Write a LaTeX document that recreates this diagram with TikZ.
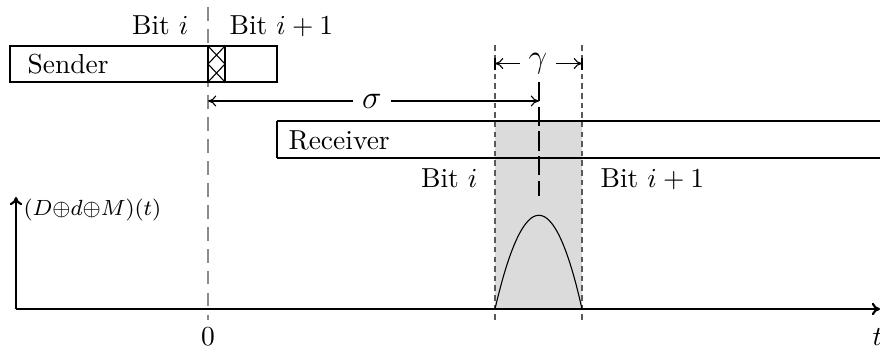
\documentclass[tikz,border=0pt]{standalone}
\usetikzlibrary{arrows.meta}
\begin{document}
\begin{tikzpicture}[x=0.364pt,y=-0.364pt,
  lbl/.style={inner sep=0pt},
  dimarrow/.style={-{To[length=3pt,width=4pt]}},
  gdash/.style={black!65, dash pattern=on 2pt off 1.5pt},
  box/.style={draw, line width=0.4pt}]
\useasboundingbox (0,0) rectangle (880,351);
% shaded window
\fill[black!14] (495,121) rectangle (582,309);
% dashed guide lines
\draw[black!45, dash pattern=on 5pt off 3pt] (208,7) -- (208,320);
\draw[gdash] (495,45) -- (495,320);
\draw[gdash] (582,45) -- (582,320);
\draw[dash pattern=on 7pt off 2pt] (539,82) -- (539,196);
% sender
\draw[box] (10,46) rectangle (277,82);
\node[lbl, anchor=west] (sender) at (27,64) {Sender};
\draw[box] (208,46) rectangle (225,82);
\draw (208,46) -- (225,64) -- (208,82);
\draw (225,46) -- (208,64) -- (225,82);
\node[lbl, anchor=base east] (bitiS) at (189,34) {Bit $i$};
\node[lbl, anchor=base west] (biti1S) at (229,34) {Bit $i+1$};
% receiver
\draw[box] (277,121) -- (880,121);
\draw[box] (277,158) -- (880,158);
\draw[box] (277,121) -- (277,158);
\node[lbl, anchor=west] (receiver) at (288,140) {Receiver};
\node[lbl, anchor=base east] (bitiR) at (478,187) {Bit $i$};
\node[lbl, anchor=base west] (biti1R) at (600,187) {Bit $i+1$};
% sigma
\coordinate (s0) at (208,101);
\coordinate (s1) at (539,101);
\node[lbl, fill=white, inner xsep=3pt] (sigma) at (372,101) {\large$\sigma$};
\draw[dimarrow] (sigma) -- (s0);
\draw[dimarrow] (sigma) -- (s1);
% gamma
\coordinate (g0) at (495,63.5);
\coordinate (g1) at (582,63.5);
\node[lbl, inner xsep=3pt] (gamma) at (538,63.5) {\large$\gamma$};
\draw[dimarrow] (gamma.west) -- (g0);
\draw[dimarrow] (gamma.east) -- (g1);
\draw (495,57.5) -- (495,69.5);
\draw (582,57.5) -- (582,69.5);
% axes
\coordinate (o) at (16,309);
\coordinate (xend) at (880,309);
\coordinate (yend) at (16,197);
\draw[line width=0.8pt, -{To[length=3pt,width=4.5pt]}] (o) -- (xend);
\draw[line width=0.8pt, -{To[length=3pt,width=4.5pt]}] (o) -- (yend);
\node[lbl, anchor=west] (ylab) at (23,210) {\footnotesize $(D{\oplus}d{\oplus}M)(t)$};
\node[lbl, anchor=base] (zero) at (208,345) {$0$};
\node[lbl, anchor=base west] (tlab) at (872,345) {$t$};
% pulse
\draw (495,309) .. controls (524,184) and (554,184) .. (582,309);
\end{tikzpicture}
\end{document}
